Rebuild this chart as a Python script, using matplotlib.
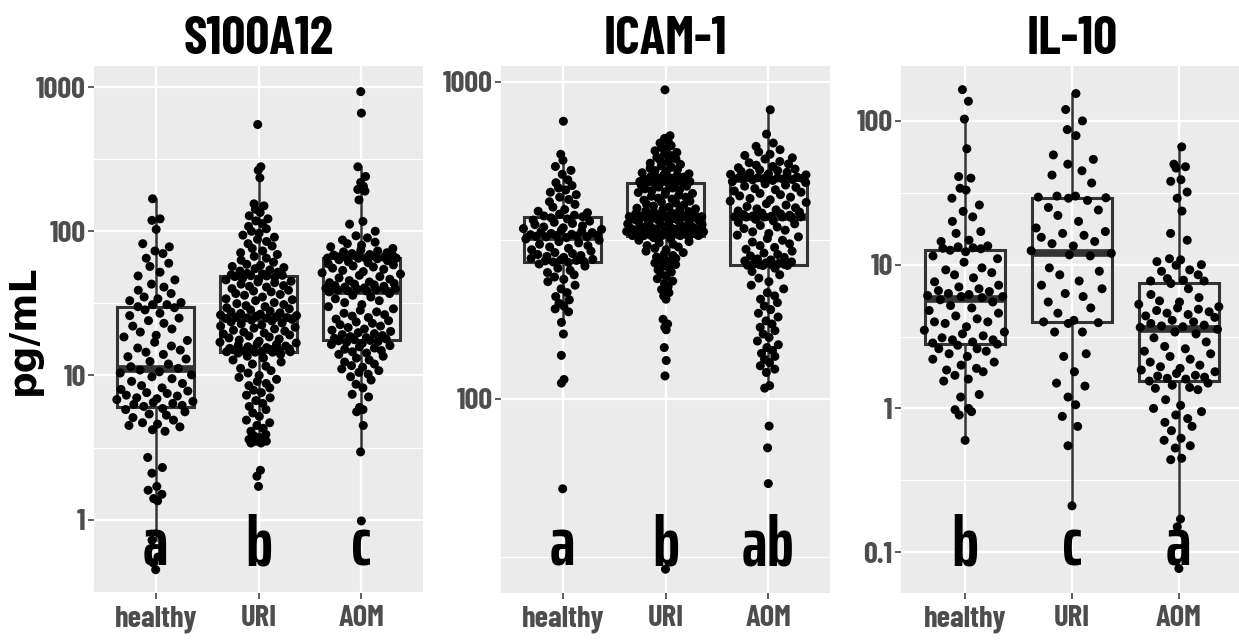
import numpy as np
import matplotlib
matplotlib.use('Agg')
import matplotlib.pyplot as plt
import matplotlib.transforms as mtransforms
from matplotlib import font_manager
from matplotlib.cbook import boxplot_stats
from matplotlib.ticker import FixedLocator, NullFormatter

groups = ['healthy', 'URI', 'AOM']

# ---- S100A12 (pg/mL) ----
s100_healthy = [168, 122, 119, 103, 82, 78, 73, 70, 65, 60, 57, 52, 49, 46, 43, 41, 39, 37, 35, 34, 33, 32, 31, 31, 30,
                29.5, 28.5, 27, 26, 25, 24, 23, 22, 21, 20, 19, 18.5, 17.5, 17, 16, 15.5, 15, 14.5, 14, 13.5, 13, 12.5, 12, 11.5, 11.2,
                10.9, 10.6, 10.4, 10.1, 9.8, 9.5, 9.1, 8.8, 8.5, 8.2, 8.0, 7.8, 7.6, 7.5, 7.3, 7.2, 7.0, 6.9, 6.8, 6.6, 6.5, 6.4, 6.3, 6.2, 6.1,
                5.9, 5.8, 5.6, 5.4, 5.3, 5.1, 4.9, 4.7, 4.6, 4.5, 4.4, 4.2, 4.1, 2.7, 2.3, 2.1, 1.7, 1.6, 1.5, 1.4, 1.35, 0.72, 0.55, 0.5, 0.45]
s100_uri = [550, 280, 265, 235, 155, 150, 142, 135, 128, 122, 118, 113, 108, 104, 100, 97, 94, 91, 88, 85, 82, 79, 76, 73,
            71, 69, 67, 65, 63, 61, 59, 58, 57, 56, 55, 54, 53, 52, 51, 50.5, 50, 49.5, 49.2, 49,
            48.5, 48, 47, 46.5, 46, 45, 44.5, 44, 43, 42, 41.5, 41, 40, 39, 38.5, 38, 37, 36.5, 36, 35, 34, 33.5, 33, 32,
            31.5, 31, 30.5, 30, 29.5, 29, 28.5, 28, 27.6, 27.2, 26.9, 26.6, 26.3, 26, 25.8, 25.6, 25.4, 25.2, 25.1, 25,
            24.8, 24.5, 24.2, 23.9, 23.5, 23.1, 22.8, 22.4, 22, 21.6, 21.3, 21, 20.6, 20.3, 20, 19.7, 19.4, 19.1, 18.8,
            18.5, 18.2, 17.9, 17.6, 17.3, 17, 16.8, 16.6, 16.4, 16.2, 16, 15.8, 15.6, 15.4, 15.3, 15.2, 15.1, 15, 14.9,
            14.8, 14.7, 14.6, 14.6, 14.5, 14.5,
            14.3, 14, 13.6, 13.2, 12.8, 12.4, 12, 11.6, 11.2, 10.8, 10.4, 10, 9.7, 9.4, 9.1, 8.8, 8.5, 8.2, 7.9, 7.6, 7.3,
            7.0, 6.7, 6.4, 6.1, 5.8, 5.5, 5.2, 4.9, 4.7, 4.5, 4.3, 4.1, 3.9, 3.8, 3.7, 3.6, 3.5, 3.5, 3.4, 3.4, 2.2, 2.0, 1.7]
s100_aom = [930, 660, 280, 240, 218, 205, 195, 190, 165, 117, 112, 100, 93, 90, 87, 84, 82, 80, 78, 76, 74, 73, 72, 71,
            70, 69, 68.5, 68, 67.5, 67, 66.5, 66, 65.5, 65.3, 65.2, 65.1, 65,
            64.5, 63.5, 62.5, 61.5, 60.5, 59.5, 58.5, 57.5, 56.5, 55.5, 54.5, 53.5, 52.5, 51.5, 50.5, 49.5, 48.5, 47.5,
            46.5, 45.5, 44.5, 44, 43.5, 43, 42.5, 42, 41.5, 41, 40.5, 40.2, 40, 39.7, 39.4, 39.1, 38.9, 38.7, 38.5,
            38, 37, 36, 35, 34, 33, 32, 31, 30, 29, 28.3, 27.6, 27, 26.4, 25.8, 25.2, 24.6, 24, 23.5, 23, 22.5, 22, 21.5,
            21, 20.6, 20.2, 19.8, 19.5, 19.2, 18.9, 18.6, 18.3, 18.1, 17.9, 17.7, 17.5, 17.4,
            17.2, 17, 16.7, 16.4, 16.1, 15.8, 15.5, 15.2, 14.9, 14.6, 14.3, 14, 13.6, 13.2, 12.8, 12.4, 12, 11.7, 11.4,
            11.1, 10.8, 10.5, 10.2, 9.8, 9.3, 8.7, 8.2, 7.4, 7.1, 6.0, 5.8, 5.6, 4.5, 2.95, 0.98]

# ---- ICAM-1 (pg/mL) ----
icam_healthy = [750, 590, 565, 540, 525, 510, 490, 480, 470, 462, 455, 448, 440, 432, 425, 418, 410, 402, 395, 390, 386,
                382, 379, 377, 375,
                372, 369, 366, 363, 360, 357, 354, 351, 348, 346, 344, 342, 340, 338, 336, 334, 332, 330, 329, 328, 327,
                326, 325, 324.5, 324,
                322, 319, 316, 313, 310, 307, 304, 301, 298, 295, 292, 289, 287, 285, 283, 281, 279, 277, 275, 274, 273,
                272, 271, 270, 269,
                266, 262, 258, 254, 250, 246, 242, 238, 234, 228, 222, 216, 210, 205, 200, 196, 192, 188, 174, 160, 137,
                115, 112, 52]
icam_uri = [942, 675, 662, 648, 640, 628, 620, 612, 605, 598, 590, 584, 577, 570, 566, 560, 553, 548, 542, 537, 533, 528,
            524, 520, 516, 512, 509, 506, 503, 500, 498, 496, 494, 492, 490, 489, 488, 487, 486, 485, 484, 484, 483, 483, 482,
            480, 477, 474, 471, 468, 465, 462, 459, 456, 453, 450, 447, 444, 441, 438, 435, 432, 429, 426, 423, 420, 417,
            414, 411, 408, 405, 402, 399, 397, 395, 393, 391, 389, 387, 385, 383, 381, 380, 379, 378, 377, 376, 376, 375,
            375, 374, 374, 374,
            373, 371, 370, 368, 366, 365, 363, 362, 360, 358, 357, 356, 354, 353, 351, 350, 349, 348, 346, 345, 344, 343,
            342, 341, 340, 339, 338, 337, 336, 335, 334, 334, 333, 332, 331, 331, 330, 330, 329, 329, 328, 328, 328, 327,
            327, 327, 327, 327,
            325, 322, 319, 316, 313, 310, 307, 304, 301, 298, 295, 292, 289, 286, 283, 280, 277, 274, 271, 268, 265, 262,
            259, 255, 251, 247, 243, 239, 235, 231, 226, 221, 216, 211, 206, 178, 172, 168, 165, 145, 132, 118, 29]
icam_aom = [815, 683, 640, 625, 610, 600, 590, 585, 575, 570, 560, 555, 550, 545, 540, 535, 530, 527, 524, 521, 518, 515,
            512, 510, 508, 506, 504, 502, 500, 498, 497, 496, 495, 494, 493, 492, 491, 490,
            488, 484, 480, 476, 472, 468, 464, 460, 456, 452, 448, 444, 440, 436, 432, 428, 424, 420, 416, 412, 408, 404,
            400, 397, 394, 391, 388, 385, 383, 381, 379, 377, 376, 375, 374.5, 374.2, 374.1, 374,
            372, 368, 364, 360, 356, 352, 348, 344, 340, 336, 332, 328, 324, 320, 316, 312, 308, 304, 300, 296, 292, 288,
            285, 282, 279, 276, 274, 272, 270, 268, 267, 266, 265, 264.5, 264, 263.5, 263.2, 263,
            258, 252, 246, 240, 234, 228, 222, 216, 211, 206, 201, 196, 191, 186, 181, 176, 172, 168, 164, 160, 156, 152,
            148, 145, 142, 139, 136, 133, 130, 127, 124, 121, 110, 108, 82, 70, 54]

# ---- IL-10 (pg/mL) ----
il10_healthy = [165, 137, 103, 64, 41, 40, 34, 33, 29, 26, 23.5, 21.5, 20, 17, 16.5, 14.8, 14.5, 13.5, 13.3, 13.1, 13, 12.9,
                12.6, 12.3, 11.5, 11, 10.4, 9.5, 9.2, 8.8, 8.5, 8.1, 7.6, 7.2, 7, 6.8, 6.6, 6.5, 6.3, 6.2, 6.1, 6.0, 6.0, 5.9,
                5.7, 5.5, 5.2, 5.0, 4.8, 4.6, 4.4, 4.2, 4.0, 4.0, 3.9, 3.7, 3.5, 3.4, 3.3, 3.2, 3.1, 3.0, 3.0, 2.9, 2.85, 2.8,
                2.75, 2.6, 2.6, 2.5, 2.4, 2.3, 2.2, 2.1, 2.0, 1.9, 1.85, 1.8, 1.7, 1.6, 1.55, 1.25, 1.2, 1.0, 0.98, 0.95,
                0.9, 0.6]
il10_uri = [155, 120, 100, 87, 79, 58, 54, 50, 45, 42, 37, 30, 30, 29.5, 29.2, 29,
            28, 25, 24, 22, 20, 18, 17, 16.5, 16, 15.5, 14.5, 14, 13.5, 12.5, 12, 11.7,
            11.5, 9.5, 9, 8.5, 7.7, 7.2, 6.8, 6.3, 6.0, 5.5, 5.0, 4.6, 4.1, 4.0, 3.95, 3.9,
            3.4, 3.4, 2.4, 2.3, 1.8, 1.5, 1.43, 1.2, 1.06, 0.88, 0.75, 0.55, 0.21]
il10_aom = [66, 50, 48, 47, 39, 38, 32, 29, 23.6, 16.5, 14.8, 11, 10.8, 10.5, 10, 9.9, 9.2, 9, 8.5, 8, 7.8, 7.7, 7.7,
            7.4, 6.8, 6.2, 5.9, 5.6, 5.5, 5.3, 5.1, 5.0, 4.9, 4.8, 4.7, 4.6, 4.5, 4.4, 4.3, 4.1, 4.0, 3.9, 3.8, 3.75, 3.7, 3.66,
            3.55, 3.4, 3.3, 3.1, 2.9, 2.7, 2.6, 2.5, 2.4, 2.3, 2.2, 2.1, 2.0, 1.95, 1.9, 1.85, 1.8, 1.75, 1.7, 1.68, 1.65,
            1.62, 1.6,
            1.55, 1.5, 1.45, 1.4, 1.38, 1.35, 1.15, 1.05, 1.0, 0.95, 0.9, 0.85, 0.8, 0.75, 0.7, 0.62, 0.6, 0.55, 0.53,
            0.45, 0.44, 0.17, 0.15, 0.077]

titles = ['S100A12', 'ICAM-1', 'IL-10']
letters = [['a', 'b', 'c'], ['a', 'b', 'ab'], ['b', 'c', 'a']]
ylims = [(0.31, 1400), (24.4, 1120), (0.052, 241)]
yticks = [[1, 10, 100, 1000], [100, 1000], [0.1, 1, 10, 100]]
yticklabels = [['1', '10', '100', '1000'], ['100', '1000'], ['0.1', '1', '10', '100']]
data = [[s100_healthy, s100_uri, s100_aom],
        [icam_healthy, icam_uri, icam_aom],
        [il10_healthy, il10_uri, il10_aom]]


def pick_font(prefixes, fallback):
    files = font_manager.findSystemFonts()
    for pre in prefixes:
        for f in files:
            if f.replace('\\', '/').split('/')[-1].startswith(pre):
                font_manager.fontManager.addfont(f)
                return font_manager.FontProperties(fname=f)
    return font_manager.FontProperties(family=fallback, weight='bold')


# condensed bold faces stand in for the squeezed Arial of the original
narrow = pick_font(['BarlowCondensed-Bold.', 'RobotoCondensed-Bold.'], 'DejaVu Sans')
letter_font = pick_font(['SairaExtraCondensed-Bold.', 'BarlowCondensed-Bold.'], 'DejaVu Sans')
wide = font_manager.FontProperties(family='DejaVu Sans', weight='bold')


def van_der_corput(n):
    out = []
    for i in range(1, n + 1):
        q, denom, k = 0.0, 1.0, i
        while k > 0:
            denom *= 2
            k, rem = divmod(k, 2)
            q += rem / denom
        out.append(q)
    return np.array(out)


def quasirandom_offsets(vals, width=0.4):
    # ggbeeswarm-style quasirandom spread on the log scale
    y = np.log10(np.asarray(vals, float))
    n = len(y)
    sd = y.std(ddof=1)
    iqr = np.subtract(*np.percentile(y, [75, 25]))
    bw = 0.9 * min(sd, iqr / 1.34) * n ** -0.2
    grid = np.linspace(y.min() - 3 * bw, y.max() + 3 * bw, 512)
    dgrid = np.exp(-0.5 * ((grid[:, None] - y[None, :]) / bw) ** 2).sum(1)
    dpts = np.exp(-0.5 * ((y[:, None] - y[None, :]) / bw) ** 2).sum(1)
    dens = dpts / dgrid.max()
    ranks = np.argsort(np.argsort(y, kind='stable'), kind='stable')
    vdc = van_der_corput(n)[ranks]
    return (vdc * 2 - 1) * dens * width


def fp(prop, size):
    q = prop.copy()
    q.set_size(size)
    return q


fig = plt.figure(figsize=(12.39, 6.41), dpi=100)
W, H = 1239, 641
panel_x = [(94, 423), (501, 830), (901, 1243)]
top, bottom = 66, 593

for p in range(3):
    x0, x1 = panel_x[p]
    ax = fig.add_axes([x0 / W, (H - bottom) / H, (x1 - x0) / W, (bottom - top) / H])
    ax.set_facecolor('#EBEBEB')
    ax.set_yscale('log')

    stats = []
    for vals in data[p]:
        st = boxplot_stats(np.log10(vals), whis=1.5)[0]
        for key in ['mean', 'med', 'q1', 'q3', 'whislo', 'whishi', 'cilo', 'cihi']:
            st[key] = 10 ** st[key]
        st['fliers'] = []
        stats.append(st)
    ax.bxp(stats, positions=[1, 2, 3], widths=0.75, showfliers=False, showcaps=False,
           patch_artist=True, manage_ticks=False,
           boxprops=dict(facecolor='none', edgecolor='#333333', lw=2.2),
           medianprops=dict(color='#333333', lw=5.5, solid_capstyle='butt'),
           whiskerprops=dict(color='#333333', lw=1.8))

    for i, vals in enumerate(data[p]):
        offs = quasirandom_offsets(vals)
        ax.scatter(i + 1 + offs, vals, s=42, c='black', edgecolors='none', zorder=3)

    ax.set_ylim(*ylims[p])
    ax.set_xlim(0.4, 3.6)
    for s in ax.spines.values():
        s.set_visible(False)
    ax.set_yticks(yticks[p])
    ax.set_yticklabels(yticklabels[p])
    lo, hi = np.log10(ylims[p])
    minors = [10 ** (k + 0.5) for k in range(int(np.floor(lo)) - 1, int(np.ceil(hi)) + 1)
              if lo < k + 0.5 < hi]
    ax.yaxis.set_minor_locator(FixedLocator(minors))
    ax.yaxis.set_minor_formatter(NullFormatter())
    ax.set_xticks([1, 2, 3])
    ax.set_xticklabels(groups)
    ax.grid(which='major', color='white', lw=1.7)
    ax.grid(which='minor', axis='y', color='white', lw=0.8)
    ax.set_axisbelow(True)
    ax.tick_params(which='minor', length=0)
    ax.tick_params(which='major', length=4, width=1.1, color='#333333', labelcolor='#4D4D4D')
    ax.tick_params(axis='x', pad=5)
    ax.tick_params(axis='y', pad=2)
    for lab in ax.get_xticklabels() + ax.get_yticklabels():
        lab.set_fontproperties(fp(narrow, 22))

    ax.text(0.5, 1.022, titles[p], transform=ax.transAxes, ha='center', va='baseline',
            fontproperties=fp(narrow, 38))
    trans = mtransforms.blended_transform_factory(ax.transData, ax.transAxes)
    for i, let in enumerate(letters[p]):
        ax.text(i + 1, 0.053, let, transform=trans, ha='center', va='baseline',
                fontproperties=fp(letter_font, 50), zorder=4)

fig.text(24 / W, (H - 330) / H, 'pg/mL', rotation=90, ha='center', va='center',
         fontproperties=fp(wide, 27))

fig.savefig('out.png', dpi=100)
